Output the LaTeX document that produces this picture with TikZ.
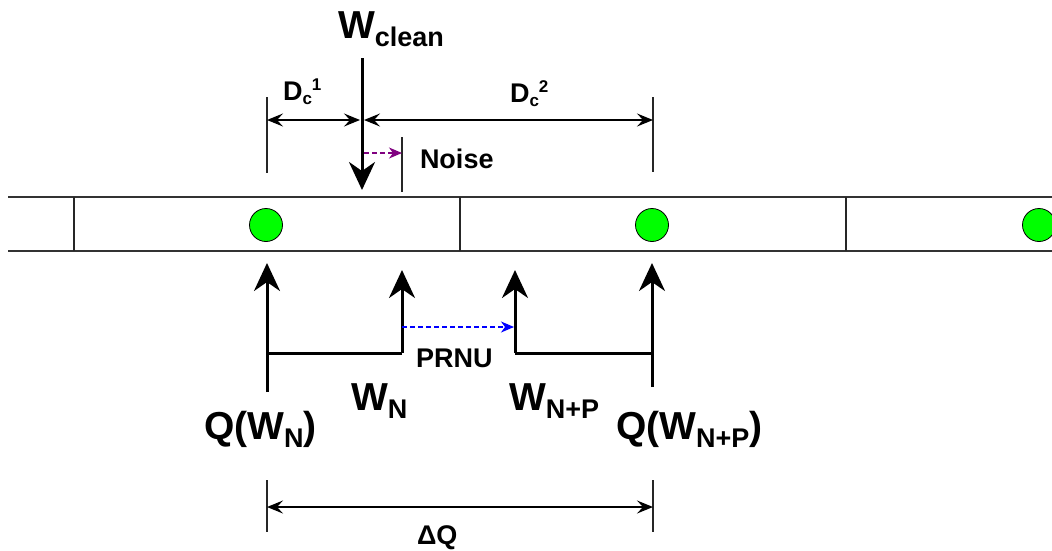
\documentclass[tikz,border=0pt]{standalone}
\usepackage{fontspec}
\setmainfont{Liberation Sans}
\usetikzlibrary{arrows.meta}
\newcommand\dgBig{\fontsize{39}{39}\selectfont\bfseries}
\newcommand\dgSub{\fontsize{27}{27}\selectfont\bfseries}
\newcommand\dgMid{\fontsize{27}{27}\selectfont\bfseries}
\newcommand\dgTiny{\fontsize{17}{17}\selectfont\bfseries}
\newcommand\dgsb[1]{\raisebox{-8pt}{\dgSub #1}}
\definecolor{dotgreen}{RGB}{0,255,0}
\definecolor{noisepurple}{RGB}{128,0,128}
\definecolor{prnublue}{RGB}{0,0,255}
\begin{document}
\begin{tikzpicture}[x=1pt,y=-1pt,
  stripline/.style={draw=black!80, line width=2.4pt},
  divider/.style={draw=black!85, line width=1.3pt},
  tick/.style={draw=black!85, line width=1.4pt},
  bigarrow/.style={line width=3pt, -{Stealth[length=28pt,width=26pt,inset=9pt]}},
  barline/.style={line width=3pt},
  dimarrow/.style={line width=1.5pt, {Stealth[length=16pt,width=13pt,inset=6pt]}-{Stealth[length=16pt,width=13pt,inset=6pt]}},
  dasharrow/.style={line width=1.2pt, dashed, dash pattern=on 5pt off 3pt, -{Stealth[length=13pt,width=11pt,inset=4pt]}},
  dot/.style={circle, draw=black, line width=0.8pt, fill=dotgreen, minimum size=33pt, inner sep=0pt},
  lab/.style={anchor=base west, inner sep=0pt, outer sep=0pt}
]
\useasboundingbox (0,0) rectangle (1052,550);
\clip (0,0) rectangle (1052,550);
\fill[white] (0,0) rectangle (1052,550);

% strip
\coordinate (sTL) at (8,197);
\coordinate (sTR) at (1060,197);
\coordinate (sBL) at (8,251);
\coordinate (sBR) at (1060,251);
\draw[stripline] (sTL) -- (sTR);
\draw[stripline] (sBL) -- (sBR);
\coordinate (d1t) at (74,197);  \coordinate (d1b) at (74,251);
\coordinate (d2t) at (460,197); \coordinate (d2b) at (460,251);
\coordinate (d3t) at (846,197); \coordinate (d3b) at (846,251);
\draw[divider] (d1t) -- (d1b);
\draw[divider] (d2t) -- (d2b);
\draw[divider] (d3t) -- (d3b);
\node[dot] (c1) at (266,225) {};
\node[dot] (c2) at (652,225) {};
\node[dot] (c3) at (1039,225) {};

% W clean
\node[lab] (wclean) at (338,38) {\dgBig W\dgsb{clean}};
\coordinate (wcA) at (362,58);
\coordinate (wcB) at (362,190);
\draw[bigarrow] (wcA) -- (wcB);

% D_c ticks and dimension arrows
\coordinate (t1a) at (267,97);  \coordinate (t1b) at (267,173);
\coordinate (t2a) at (653,97);  \coordinate (t2b) at (653,172);
\draw[tick] (t1a) -- (t1b);
\draw[tick] (t2a) -- (t2b);
\coordinate (dc1L) at (267,120);
\coordinate (dc1R) at (360,120);
\coordinate (dc2L) at (364,120);
\coordinate (dc2R) at (653,120);
\draw[dimarrow] (dc1L) -- (dc1R);
\draw[dimarrow] (dc2L) -- (dc2R);
\node[lab] (dc1) at (283,100) {\dgMid D\raisebox{-4pt}{\dgTiny c}\raisebox{10pt}{\dgTiny 1}};
\node[lab] (dc2) at (510,102) {\dgMid D\raisebox{-4pt}{\dgTiny c}\raisebox{10pt}{\dgTiny 2}};

% noise
\coordinate (nta) at (402,137); \coordinate (ntb) at (402,192);
\draw[tick] (nta) -- (ntb);
\coordinate (nA) at (364,153);
\coordinate (nB) at (402,153);
\draw[dasharrow, noisepurple] (nA) -- (nB);
\node[lab] (noise) at (420,168) {\dgMid Noise};

% bottom arrows
\coordinate (q1b) at (267,392); \coordinate (q1t) at (267,263);
\coordinate (wnb) at (402,353); \coordinate (wnt) at (402,270);
\coordinate (wpb) at (515,353); \coordinate (wpt) at (515,270);
\coordinate (q2b) at (652,387); \coordinate (q2t) at (652,263);
\coordinate (bar1) at (267,353);
\coordinate (bar2) at (652,353);
\draw[bigarrow] (q1b) -- (q1t);
\draw[bigarrow] (wnb) -- (wnt);
\draw[bigarrow] (wpb) -- (wpt);
\draw[bigarrow] (q2b) -- (q2t);
\draw[barline] (bar1) -- (wnb);
\draw[barline] (wpb) -- (bar2);
\coordinate (pA) at (402,327);
\coordinate (pB) at (514,327);
\draw[dasharrow, prnublue] (pA) -- (pB);
\node[lab] (prnu) at (416,367) {\dgMid PRNU};

\node[lab] (lqwn) at (204,439) {\dgBig Q(W\dgsb{N})};
\node[lab] (lwn) at (351,410) {\dgBig W\dgsb{N}};
\node[lab] (lwnp) at (509,410) {\dgBig W\dgsb{N+P}};
\node[lab] (lqwnp) at (616,439) {\dgBig Q(W\dgsb{N+P})};

% delta Q
\coordinate (t3a) at (267,480); \coordinate (t3b) at (267,532);
\coordinate (t4a) at (653,480); \coordinate (t4b) at (653,532);
\draw[tick] (t3a) -- (t3b);
\draw[tick] (t4a) -- (t4b);
\coordinate (dqL) at (267,507);
\coordinate (dqR) at (653,507);
\draw[dimarrow] (dqL) -- (dqR);
\node[lab] (dq) at (417,544) {\dgMid ΔQ};
\end{tikzpicture}
\end{document}
